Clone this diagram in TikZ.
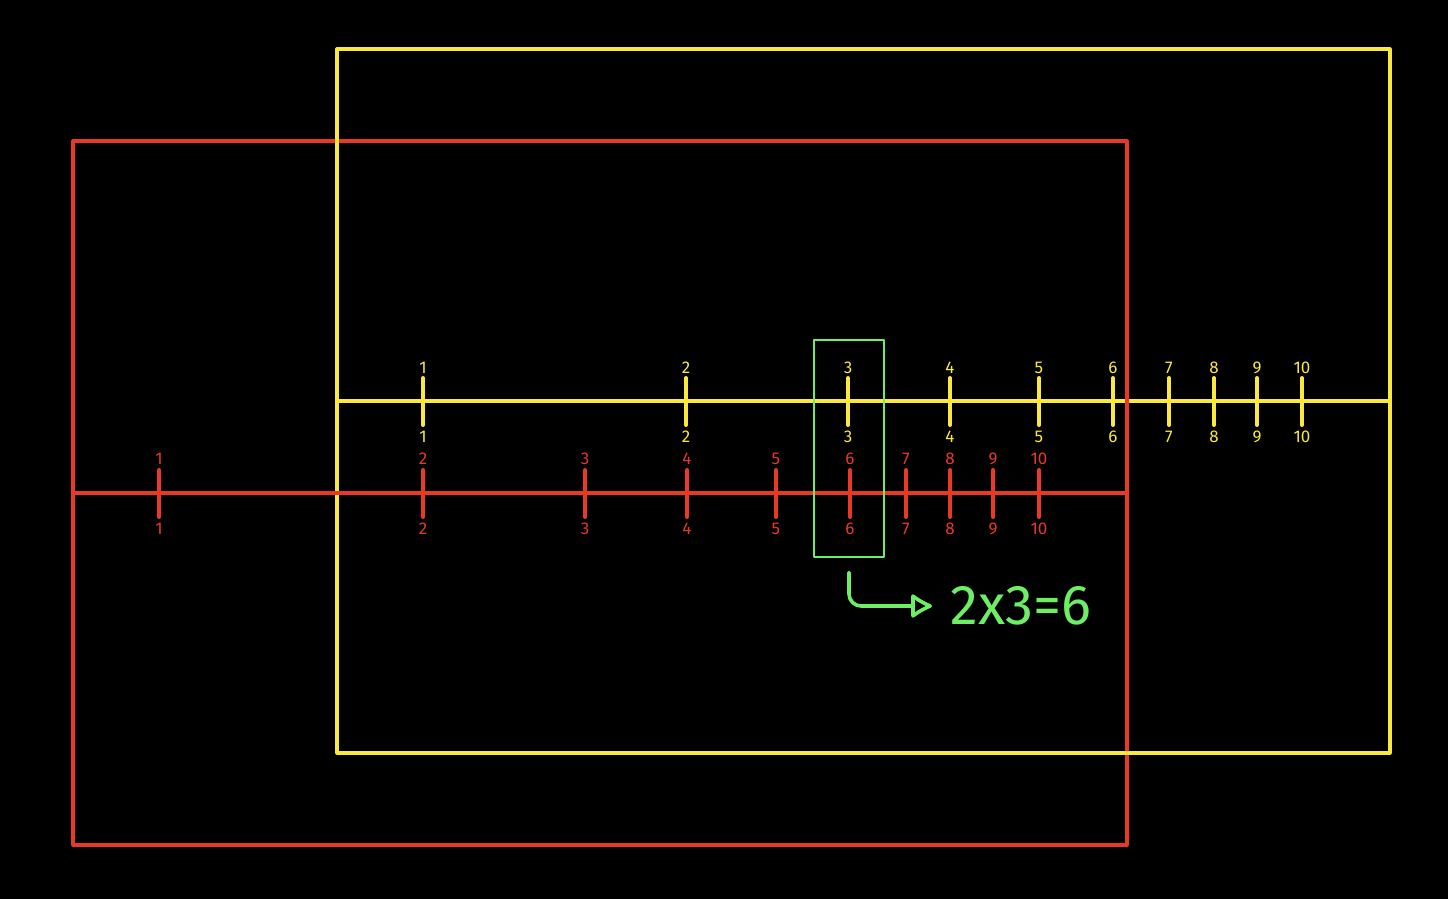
\documentclass[tikz,border=0pt]{standalone}
\usepackage{fontspec}
\setmainfont{Fira Sans}
\usetikzlibrary{arrows.meta,positioning}

\definecolor{ruleyellow}{RGB}{250,232,60}
\definecolor{rulered}{RGB}{232,56,38}
\definecolor{markgreen}{RGB}{110,238,100}

\tikzset{
  slide/.style={line width=1.6pt},
  tick/.style={line width=2pt},
  numlab/.style={inner sep=0pt,font=\fontsize{8.5}{9}\selectfont},
}

\begin{document}
\begin{tikzpicture}[x=0.5pt,y=-0.5pt,>=Stealth,line join=round,line cap=round]
    \fill[black] (0,0) rectangle (1448,899);
    \useasboundingbox (0,0) rectangle (1448,899);
    % the two slides
    \draw[slide,rulered] (73,141) rectangle (1127,845);
    \draw[slide,ruleyellow] (337,49) rectangle (1390,753);
    \draw[slide,ruleyellow] (337,401) -- (1390,401);
    \draw[slide,rulered] (73,493) -- (1127,493);
    \draw[slide,rulered] (1127,380) -- (1127,420);
    % scales (hand placed)
    \foreach \n/\xa in {1/423,2/686,3/848,4/950,5/1039,6/1113,7/1169,8/1214,9/1257,10/1302}{
      \draw[tick,ruleyellow] (\xa,378) -- (\xa,425);
      \node[numlab,text=ruleyellow] (ya\n) at (\xa,368) {\n};
      \node[numlab,text=ruleyellow] (yb\n) at (\xa,437) {\n};
    }
    \foreach \n/\xb in {1/159,2/423,3/585,4/687,5/776,6/850,7/906,8/950,9/993,10/1039}{
      \draw[tick,rulered] (\xb,470) -- (\xb,517);
      \node[numlab,text=rulered] (ra\n) at (\xb,459) {\n};
      \node[numlab,text=rulered] (rb\n) at (\xb,529) {\n};
    }
    % reading
    \node[draw=markgreen,line width=1.4pt,minimum width=35pt,minimum height=108.5pt,inner sep=0pt] (pick) at (849,448.5) {};
    \node[text=markgreen,font=\fontsize{28}{30}\selectfont,anchor=west,inner sep=0pt] (res) at (950,606) {2x3=6};
    \draw[markgreen,line width=1.8pt,rounded corners=6pt,-{Latex[open,round,length=12pt,width=14pt]}]
      ([yshift=-7pt]pick.south) |- ([xshift=-9pt]res.west);
  \end{tikzpicture}
\end{document}
